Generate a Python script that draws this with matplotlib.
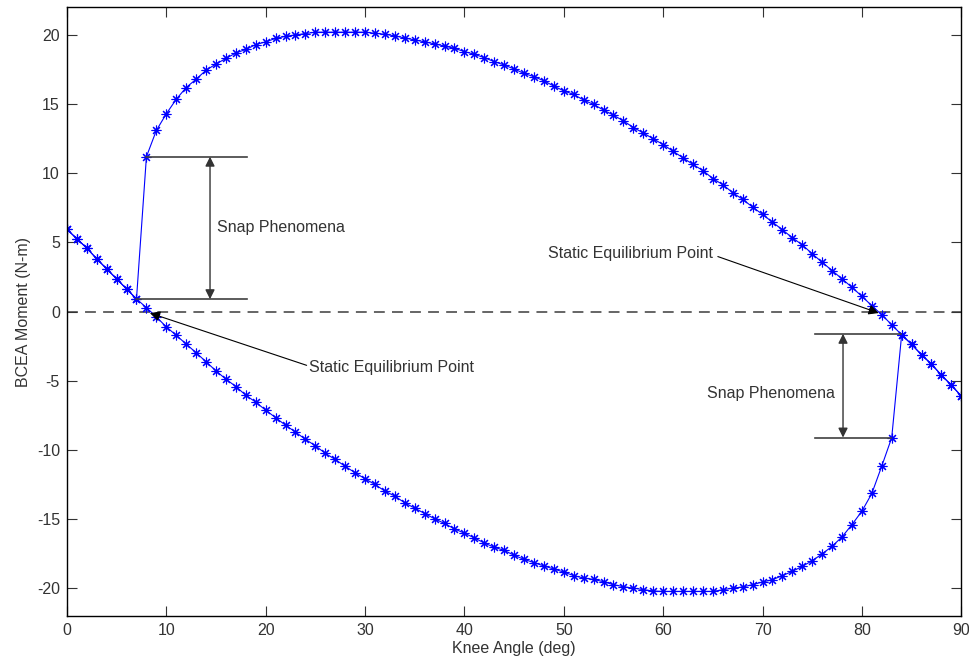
import numpy as np
import matplotlib
matplotlib.use('Agg')
import matplotlib.pyplot as plt

plt.rcParams['font.family'] = ['Liberation Sans', 'DejaVu Sans']
plt.rcParams['axes.unicode_minus'] = False

# Knee angle samples (deg)
angle_lower = list(range(0, 84))     # 0..83, lower branch
angle_upper = list(range(8, 91))     # 8..90, upper branch

# BCEA moment on the lower branch (N-m), read at angles 0..83
moment_lower = [5.95, 5.27, 4.59, 3.82, 3.09, 2.37, 1.64, 0.92, 0.29, -0.38,
                -1.10, -1.71, -2.34, -2.97, -3.62, -4.28, -4.88, -5.41, -6.04, -6.54,
                -7.12, -7.66, -8.21, -8.70, -9.23, -9.69, -10.24, -10.68, -11.18, -11.64,
                -12.08, -12.49, -12.97, -13.33, -13.82, -14.20, -14.59, -14.97, -15.31, -15.70,
                -16.01, -16.35, -16.72, -17.03, -17.25, -17.61, -17.90, -18.14, -18.38, -18.60,
                -18.82, -19.08, -19.25, -19.35, -19.52, -19.73, -19.88, -19.98, -20.09, -20.19,
                -20.22, -20.22, -20.22, -20.22, -20.22, -20.22, -20.10, -19.98, -19.90, -19.73,
                -19.54, -19.37, -19.08, -18.77, -18.41, -18.00, -17.51, -16.96, -16.28, -15.39,
                -14.42, -13.14, -11.16, -9.11]

# BCEA moment on the upper branch (N-m), read at angles 8..90
moment_upper = [11.20, 13.10, 14.30, 15.35, 16.20, 16.80, 17.45, 17.90, 18.30, 18.70,
                18.95, 19.30, 19.50, 19.75, 19.90, 20.00, 20.10, 20.20, 20.20, 20.20,
                20.20, 20.20, 20.20, 20.12, 20.05, 19.93, 19.78, 19.64, 19.50, 19.35,
                19.20, 19.03, 18.80, 18.60, 18.36, 18.07, 17.83, 17.54, 17.22, 16.98,
                16.69, 16.30, 15.96, 15.70, 15.29, 14.98, 14.57, 14.20, 13.79, 13.31,
                12.92, 12.49, 12.08, 11.59, 11.12, 10.64, 10.20, 9.62, 9.18, 8.60,
                8.12, 7.56, 7.03, 6.47, 5.92, 5.34, 4.83, 4.18, 3.57, 2.97,
                2.37, 1.76, 1.11, 0.43, -0.22, -0.95, -1.67, -2.36, -3.12, -3.79,
                -4.59, -5.31, -6.10]

# Annotation values
snap_left = (8, 11.2, 0.9)        # angle, top, bottom of left snap
snap_right = (83.9, -1.6, -9.1)   # angle, top, bottom of right snap
eq_left = (8.35, -0.1)
eq_right = (81.7, -0.1)

fig = plt.figure(figsize=(9.7, 6.61), dpi=100)
ax = fig.add_axes([0.069, 0.068, 0.922, 0.921])

# Branch going up in angle: lower curve then snap onto upper curve
n_up = angle_upper.index(84)
x1 = angle_lower + angle_upper[n_up:]
y1 = moment_lower + moment_upper[n_up:]
# Branch going down in angle: upper curve then snap onto lower curve
x2 = angle_upper[::-1] + angle_lower[:8][::-1]
y2 = moment_upper[::-1] + moment_lower[:8][::-1]

# MATLAB style asterisk marker (+ and x together)
star = (8, 2, 0)
ax.plot(x1, y1, '-', marker=star, color='blue', lw=0.8, markersize=7, mew=0.8)
ax.plot(x2, y2, '-', marker=star, color='blue', lw=0.8, markersize=7, mew=0.8)

# zero line
ax.axhline(0, color='0.35', ls='--', lw=1.3, dashes=(6, 4), zorder=0)

# Left snap marker
ax.plot([snap_left[0], 18.1], [snap_left[1], snap_left[1]], color='0.25', lw=1.2)
ax.plot([7.0, 18.1], [snap_left[2], snap_left[2]], color='0.25', lw=1.2)
ax.annotate('', xy=(14.4, snap_left[1]), xytext=(14.4, snap_left[2]),
            arrowprops=dict(arrowstyle='<|-|>', color='0.2', lw=1.0, mutation_scale=14,
                            shrinkA=0, shrinkB=0))
ax.text(15.1, 6.1, 'Snap Phenomena', fontsize=11.5, va='center', ha='left', color='0.2')

# Right snap marker
ax.plot([75.3, snap_right[0]], [snap_right[1], snap_right[1]], color='0.25', lw=1.2)
ax.plot([75.3, 82.9], [snap_right[2], snap_right[2]], color='0.25', lw=1.2)
ax.annotate('', xy=(78.1, snap_right[1]), xytext=(78.1, snap_right[2]),
            arrowprops=dict(arrowstyle='<|-|>', color='0.2', lw=1.0, mutation_scale=14,
                            shrinkA=0, shrinkB=0))
ax.text(77.3, -5.9, 'Snap Phenomena', fontsize=11.5, va='center', ha='right', color='0.2')

# Static equilibrium arrows
ax.annotate('Static Equilibrium Point', xy=eq_left, xytext=(24.4, -4.0),
            fontsize=11.5, va='center', ha='left', color='0.2',
            arrowprops=dict(arrowstyle='-|>', color='k', lw=0.8, mutation_scale=15,
                            shrinkA=0, shrinkB=0,
                            relpos=(0, 0.55)))
ax.annotate('Static Equilibrium Point', xy=eq_right, xytext=(48.4, 4.2),
            fontsize=11.5, va='center', ha='left', color='0.2',
            arrowprops=dict(arrowstyle='-|>', color='k', lw=0.8, mutation_scale=15,
                            shrinkA=0, shrinkB=0,
                            relpos=(1.03, 0.3)))

ax.set_xlim(0, 90)
ax.set_ylim(-22, 22)
ax.set_xticks(np.arange(0, 91, 10))
ax.set_yticks(np.arange(-20, 21, 5))
ax.tick_params(direction='in', length=7, top=True, right=True, labelsize=11.5,
               colors='0.2', pad=5)
for s in ax.spines.values():
    s.set_linewidth(1.0)
    s.set_color('k')

ax.set_xlabel('Knee Angle (deg)', fontsize=11.5, color='0.2', labelpad=2)
ax.set_ylabel('BCEA Moment (N-m)', fontsize=11.5, color='0.2', labelpad=4)

fig.savefig('out.png', dpi=100)
